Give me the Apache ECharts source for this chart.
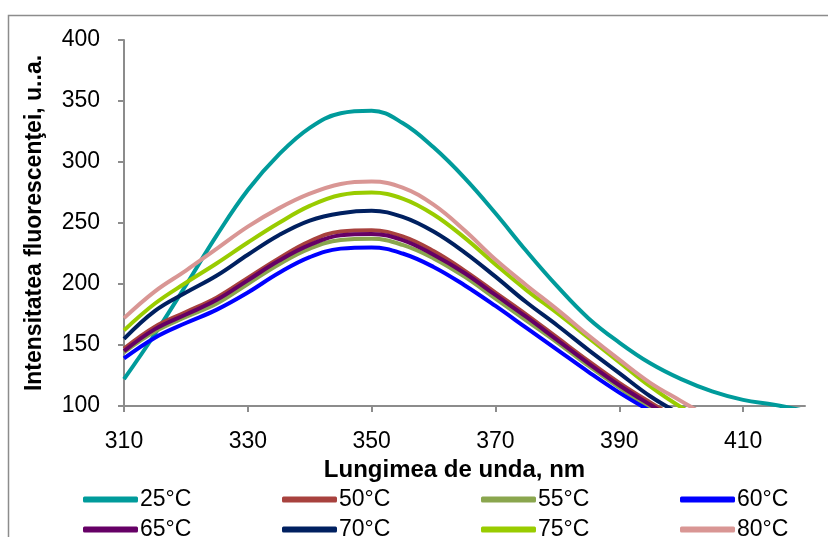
<!DOCTYPE html>
<html lang="ro">
<head>
    <meta charset="UTF-8">
    <title>Fluorescenta</title>
    <script type="text/javascript" src="https://cdn.jsdelivr.net/npm/echarts@6/dist/echarts.min.js"></script>
    <style>
        html, body {margin: 0; padding: 0; background: #fff;}
        #charts {width: 828px; height: 537px;}
    </style>
</head>
<body>
<div id="charts"></div>
<script>
    // lungimea de unda (nm)
    var wl = [310, 315, 320, 325, 330, 335, 340, 345, 350, 355, 360, 365, 370, 375, 380, 385, 390, 395, 400, 405, 410, 415, 420]

    // intensitati
    var t25 = [122, 159, 199, 240, 277, 306, 328, 340, 342, 332, 312, 287, 258, 227, 198, 172, 152, 135, 122, 112, 105, 101, 96]
    var t50 = [147, 165, 177, 189, 205, 221, 235, 243, 244, 239, 227, 211, 193, 175, 156, 137, 119, 103, 88]
    var t55 = [144, 161, 173, 184, 200, 216, 229, 236, 237, 232, 221, 206, 188, 170, 152, 133, 115, 98, 83]
    var t60 = [139, 156, 168, 179, 193, 209, 222, 229, 230, 225, 214, 199, 182, 164, 146, 128, 111, 96, 82]
    var t65 = [145, 163, 175, 187, 203, 219, 232, 240, 241, 236, 224, 209, 191, 173, 154, 135, 117, 101, 86]
    var t70 = [155, 178, 193, 207, 224, 240, 252, 258, 260, 255, 243, 226, 206, 185, 166, 146, 127, 108, 93]
    var t75 = [162, 184, 201, 217, 234, 250, 264, 273, 275, 270, 257, 238, 216, 195, 176, 156, 136, 116, 99, 86]
    var t80 = [172, 194, 211, 229, 247, 262, 274, 282, 284, 279, 265, 244, 220, 199, 179, 158, 138, 119, 104, 89]

    var names = ["25°C", "50°C", "55°C", "60°C", "65°C", "70°C", "75°C", "80°C"]
    var values = [t25, t50, t55, t60, t65, t70, t75, t80]
    var colors = ["#009b9b", "#a8423e", "#8aa64e", "#0000ff", "#660066", "#002060", "#99cc00", "#d99694"]

    var xTicks = [310, 330, 350, 370, 390, 410]

    var font = "'Liberation Sans', Arial, sans-serif"

    var series = []
    for (var i = 0; i < names.length; i++) {
        var pts = []
        for (var j = 0; j < values[i].length; j++) {
            pts.push([wl[j], values[i][j]])
        }
        series.push({
            name: names[i],
            type: "line",
            data: pts,
            smooth: 0.4,
            showSymbol: false,
            clip: true,
            lineStyle: {width: 4, color: colors[i]},
            itemStyle: {color: colors[i]}
        })
    }

    var chart = echarts.init(document.getElementById("charts"), null, {renderer: "canvas"})
    chart.setOption({
        animation: false,
        backgroundColor: "#fff",
        graphic: [{
            type: "rect",
            left: 6, top: 13,
            shape: {width: 900, height: 600},
            style: {fill: "none", stroke: "#8c8c8c", lineWidth: 1.5},
            z: -1
        }],
        grid: {left: 124, right: 23, top: 40, bottom: 131},
        legend: {
            left: 83, top: 488,
            padding: 0,
            width: 800,
            itemWidth: 55, itemHeight: 6,
            itemGap: 7,
            icon: "roundRect",
            data: names,
            textStyle: {fontFamily: font, fontSize: 23, color: "#000", width: 135, lineHeight: 22, padding: [0, 0, 0, -3]}
        },
        xAxis: {
            type: "value",
            min: 310, max: 420, interval: 20,
            name: "Lungimea de unda, nm",
            nameLocation: "middle",
            nameGap: 50,
            nameTextStyle: {fontFamily: font, fontSize: 24, fontWeight: "bold", color: "#000", padding: [0, 20, 0, 0]},
            axisLine: {lineStyle: {color: "#8c8c8c", width: 2}},
            axisTick: {show: true, length: 6, lineStyle: {color: "#8c8c8c", width: 2}, customValues: xTicks},
            axisLabel: {fontFamily: font, fontSize: 23, color: "#000", margin: 24, customValues: xTicks},
            splitLine: {show: false}
        },
        yAxis: {
            type: "value",
            min: 100, max: 400, interval: 50,
            name: "Intensitatea fluorescenţei, u..a.",
            nameLocation: "middle",
            nameGap: 78,
            nameTextStyle: {fontFamily: font, fontSize: 23, fontWeight: "bold", color: "#000"},
            axisLine: {show: true, lineStyle: {color: "#8c8c8c", width: 2}},
            axisTick: {show: true, length: 6, lineStyle: {color: "#8c8c8c", width: 2}},
            axisLabel: {fontFamily: font, fontSize: 23, color: "#000", margin: 24},
            splitLine: {show: false}
        },
        series: series
    })
</script>
</body>
</html>
